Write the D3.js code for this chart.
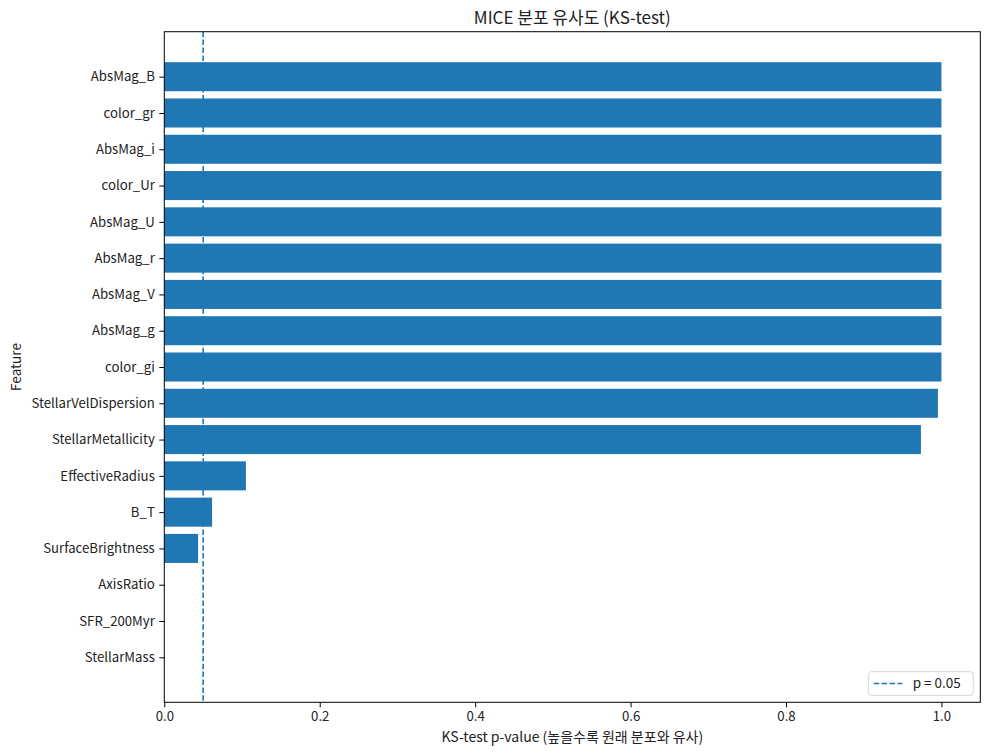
<!DOCTYPE html>
<html><head><meta charset="utf-8">
<script src="https://cdn.jsdelivr.net/npm/d3@7"></script>
<style>
body{margin:0;background:#fff;}
text{font-family:"Noto Sans CJK KR","Noto Sans",sans-serif;fill:#222;}
</style></head><body>
<svg id="c" width="990" height="754"></svg>
<script>
const features = ["AbsMag_B","color_gr","AbsMag_i","color_Ur","AbsMag_U","AbsMag_r","AbsMag_V","AbsMag_g","color_gi","StellarVelDispersion","StellarMetallicity","EffectiveRadius","B_T","SurfaceBrightness","AxisRatio","SFR_200Myr","StellarMass"];
const pvalues = [1.0,1.0,1.0,1.0,1.0,1.0,1.0,1.0,1.0,0.9955,0.9736,0.105,0.0615,0.0435,0.0,0.0,0.0];
const xTicks = [0,0.2,0.4,0.6,0.8,1.0];
const threshold = 0.05;
const title = "MICE 분포 유사도 (KS-test)";
const xLabel = "KS-test p-value (높을수록 원래 분포와 유사)";
const yLabel = "Feature";
const legendLabel = "p = 0.05";

const svg = d3.select("#c");
const L=164.3, R=980.3, T=31.7, B=702.3;
const color="#1f77b4";
const x = d3.scaleLinear().domain([0,1.05]).range([L,R]);
const n = features.length;
const m = 0.05*(n-1+0.8);
const y = d3.scaleLinear().domain([-0.4-m, n-1+0.4+m]).range([T,B]);
const bh = (y(0.8)-y(0));

svg.append("g").selectAll("rect").data(features).join("rect")
  .attr("x", x(0)).attr("y", (d,i)=>y(i)-bh/2)
  .attr("width",(d,i)=>x(pvalues[i])-x(0)).attr("height",bh)
  .attr("fill",color);

svg.append("line").attr("x1",x(threshold)).attr("x2",x(threshold))
  .attr("y1",T).attr("y2",B).attr("stroke",color).attr("stroke-width",1.6)
  .attr("stroke-dasharray","5.5,2.4");

svg.append("rect").attr("x",L).attr("y",T).attr("width",R-L).attr("height",B-T)
  .attr("fill","none").attr("stroke","#000").attr("stroke-width",1);

const xa = svg.append("g").attr("transform",`translate(0,${B})`)
  .call(d3.axisBottom(x).tickValues(xTicks).tickFormat(d3.format(".1f")).tickSize(5).tickPadding(4));
xa.select(".domain").remove();
xa.selectAll("text").attr("font-size",13.2).style("font-family",'"Noto Sans CJK KR"').attr("fill","#1a1a1a");
const ya = svg.append("g").attr("transform",`translate(${L},0)`)
  .call(d3.axisLeft(y).tickValues(d3.range(n)).tickFormat(i=>features[i]).tickSize(5).tickPadding(4.5));
ya.select(".domain").remove();
ya.selectAll("text").attr("font-size",13.2).style("font-family",'"Noto Sans CJK KR"').attr("fill","#1a1a1a");

svg.append("text").attr("x",(L+R)/2).attr("y",24).attr("text-anchor","middle")
  .attr("font-size",17).text(title);
svg.append("text").attr("x",(L+R)/2).attr("y",742).attr("text-anchor","middle")
  .attr("font-size",14).text(xLabel);
svg.append("text").attr("transform",`translate(21,${(T+B)/2}) rotate(-90)`).attr("text-anchor","middle")
  .attr("font-size",13.5).text(yLabel);

const lg = svg.append("g");
lg.append("rect").attr("x",868.3).attr("y",671.7).attr("width",105).attr("height",23.6)
  .attr("rx",3).attr("fill","#fff").attr("fill-opacity",0.8).attr("stroke","#d5d5d5");
lg.append("line").attr("x1",873.7).attr("x2",902.3).attr("y1",683.5).attr("y2",683.5)
  .attr("stroke",color).attr("stroke-width",1.6).attr("stroke-dasharray","5.5,2.4");
lg.append("text").attr("x",912.7).attr("y",688).attr("font-size",13.5).text(legendLabel);
</script>
</body></html>
